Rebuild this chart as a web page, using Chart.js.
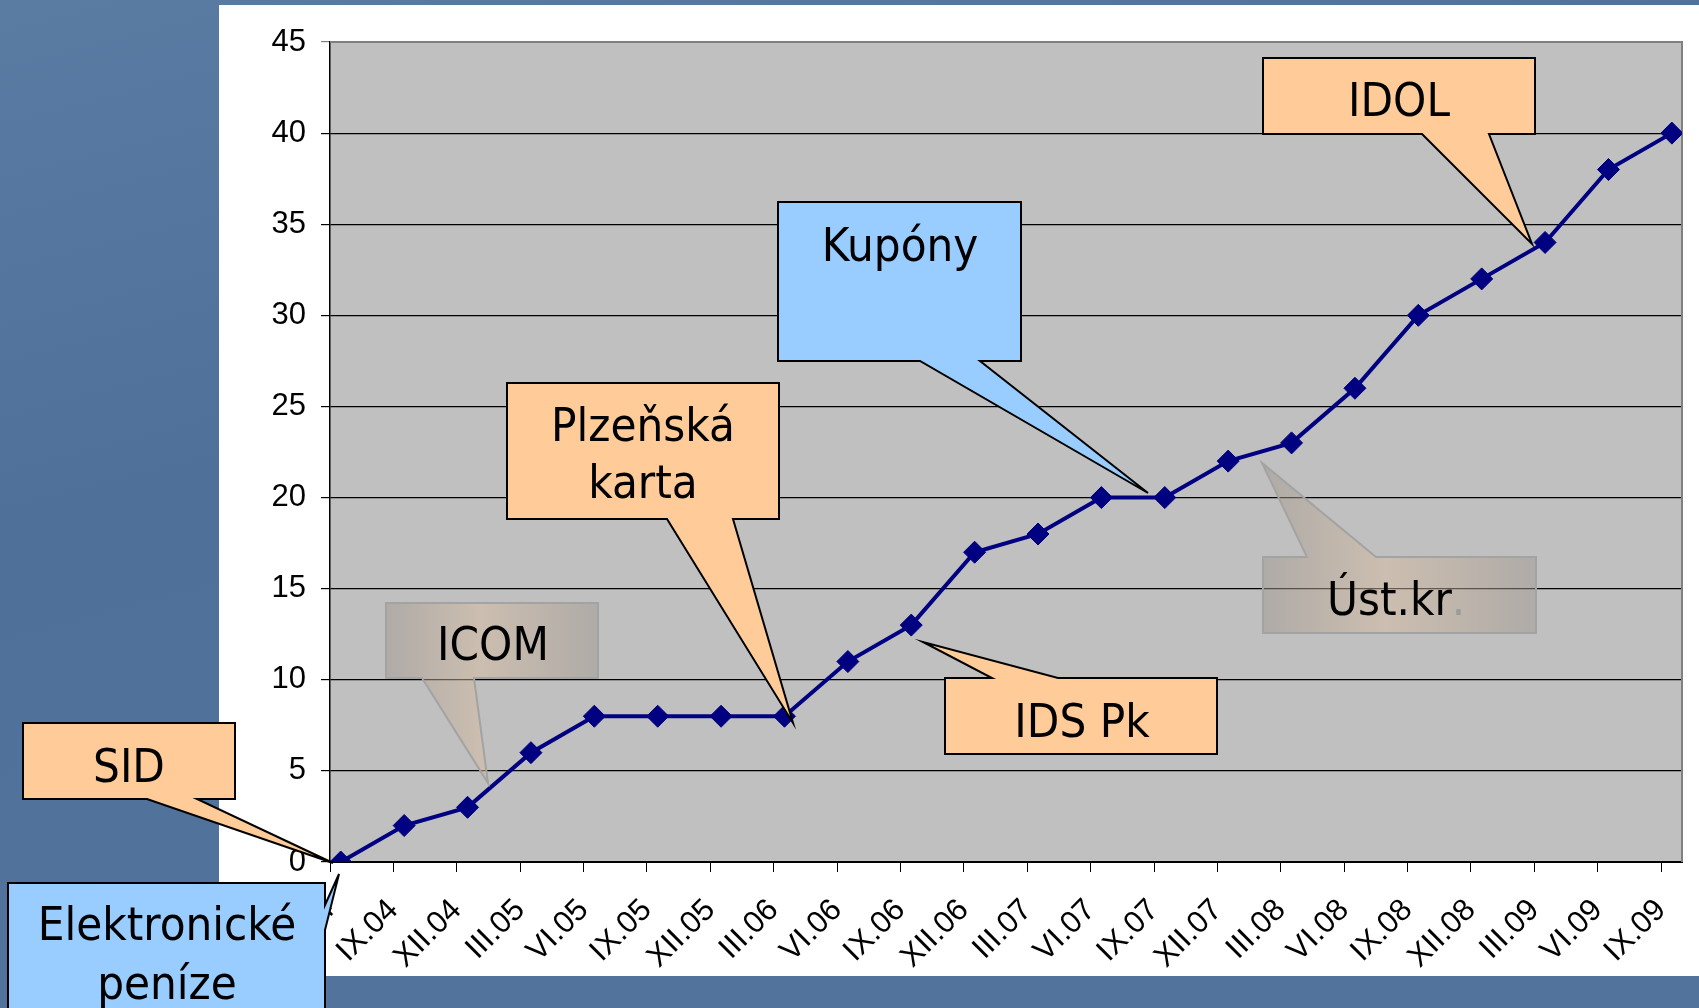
<!DOCTYPE html>
<html>
<head>
<meta charset="utf-8">
<script src="https://cdn.jsdelivr.net/npm/chart.js@4/dist/chart.umd.min.js"></script>
<style>
  html, body { margin: 0; padding: 0; background: #4f7099; overflow: hidden; }
  canvas { display: block; }
</style>
</head>
<body>
<canvas id="cardChart" width="1699" height="1008"></canvas>
<script>
// quarters on the x axis (the first one sits under the "Elektronické peníze" box)
const periods = ["VI.04", "IX.04", "XII.04", "III.05", "VI.05", "IX.05", "XII.05", "III.06",
  "VI.06", "IX.06", "XII.06", "III.07", "VI.07", "IX.07", "XII.07", "III.08",
  "VI.08", "IX.08", "XII.08", "III.09", "VI.09", "IX.09"];
const cardCounts = [0, 2, 3, 6, 8, 8, 8, 8, 11, 13, 17, 18, 20, 20, 22, 23, 26, 30, 32, 34, 38, 40];
const yTicks = [0, 5, 10, 15, 20, 25, 30, 35, 40, 45];

const PEACH = "#ffcc99";
const BLUE = "#99ccff";
const CALLOUT_FONT = "47px 'DejaVu Sans Condensed', 'DejaVu Sans', sans-serif";

// callout boxes: rect, tail (edge, two base points along the edge, tip) and text lines
const callouts = [
  { lines: ["SID"], fill: PEACH, rect: [23, 723, 235, 799], tail: { edge: "bottom", a: 147, b: 197, tip: [333, 863] }, cx: 129, base: [782] },
  { lines: ["Elektronické", "peníze"], fill: BLUE, rect: [8, 883, 325, 1030], tail: { edge: "right", a: 905, b: 930, tip: [339, 874] }, cx: 167, base: [940, 999] },
  { lines: ["ICOM"], fill: "grey", rect: [386, 603, 598, 678], tail: { edge: "bottom", a: 422, b: 474, tip: [488, 783] }, cx: 493, base: [660] },
  { lines: ["Plzeňská", "karta"], fill: PEACH, rect: [507, 383, 779, 519], tail: { edge: "bottom", a: 667, b: 733, tip: [793, 723] }, cx: 643, base: [441, 498] },
  { lines: ["Kupóny"], fill: BLUE, rect: [778, 202, 1021, 361], tail: { edge: "bottom", a: 920, b: 980, tip: [1148, 493] }, cx: 900, base: [261] },
  { lines: ["IDS Pk"], fill: PEACH, rect: [945, 678, 1217, 754], tail: { edge: "top", a: 992, b: 1058, tip: [923, 642] }, cx: 1082, base: [737] },
  { lines: ["IDOL"], fill: PEACH, rect: [1263, 58, 1535, 134], tail: { edge: "bottom", a: 1422, b: 1489, tip: [1532, 244] }, cx: 1399, base: [116] },
  { lines: ["Úst.kr"], fill: "grey", rect: [1263, 557, 1536, 633], tail: { edge: "top", a: 1307, b: 1376, tip: [1262, 463] }, cx: 1394, base: [615], greyDot: true }
];

function calloutPath(ctx, c) {
  const [l, t, r, b] = c.rect;
  const tl = c.tail;
  const pts = [[l, t]];
  if (tl.edge === "top") pts.push([tl.a, t], tl.tip, [tl.b, t]);
  pts.push([r, t]);
  if (tl.edge === "right") pts.push([r, tl.a], tl.tip, [r, tl.b]);
  pts.push([r, b]);
  if (tl.edge === "bottom") pts.push([tl.b, b], tl.tip, [tl.a, b]);
  pts.push([l, b]);
  ctx.beginPath();
  pts.forEach((p, i) => i ? ctx.lineTo(p[0], p[1]) : ctx.moveTo(p[0], p[1]));
  ctx.closePath();
}

const pagePlugin = {
  id: "page",
  beforeDraw(chart) {
    const ctx = chart.ctx;
    const W = chart.width, H = chart.height;
    ctx.save();
    const g = ctx.createLinearGradient(0, 0, 260, H);
    g.addColorStop(0, "#5a7ba2");
    g.addColorStop(0.5, "#4f7099");
    g.addColorStop(1, "#52739b");
    ctx.fillStyle = g;
    ctx.fillRect(0, 0, W, H);
    ctx.fillStyle = "#ffffff";
    ctx.fillRect(219, 5, W - 219, 971);
    const a = chart.chartArea;
    ctx.fillStyle = "#c0c0c0";
    ctx.fillRect(a.left, a.top, a.right - a.left, a.bottom - a.top);
    ctx.restore();
  },
  beforeDatasetsDraw(chart) {
    const ctx = chart.ctx, a = chart.chartArea;
    ctx.save();
    ctx.strokeStyle = "#808080";
    ctx.lineWidth = 2;
    ctx.beginPath();
    ctx.moveTo(a.left, a.top);
    ctx.lineTo(a.right, a.top);
    ctx.lineTo(a.right, a.bottom);
    ctx.stroke();
    ctx.restore();
  }
};

const calloutPlugin = {
  id: "callouts",
  afterDraw(chart) {
    const ctx = chart.ctx;
    callouts.forEach(c => {
      ctx.save();
      calloutPath(ctx, c);
      if (c.fill === "grey") {
        const g = ctx.createLinearGradient(c.rect[0], 0, c.rect[2], 0);
        g.addColorStop(0, "rgba(158,150,142,0.5)");
        g.addColorStop(0.45, "rgba(216,188,160,0.5)");
        g.addColorStop(1, "rgba(158,150,142,0.5)");
        ctx.fillStyle = g;
        ctx.fill();
        ctx.strokeStyle = "#a3a3a3";
        ctx.lineWidth = 2;
      } else {
        ctx.fillStyle = c.fill;
        ctx.fill();
        ctx.strokeStyle = "#000000";
        ctx.lineWidth = 2;
      }
      ctx.stroke();
      ctx.font = CALLOUT_FONT;
      ctx.fillStyle = "#000";
      ctx.textBaseline = "alphabetic";
      c.lines.forEach((txt, i) => {
        if (c.greyDot) {
          const w = ctx.measureText(txt + ".").width;
          const x0 = c.cx - w / 2;
          ctx.textAlign = "left";
          ctx.fillText(txt, x0, c.base[i]);
          ctx.fillStyle = "#9a9a9a";
          ctx.fillText(".", x0 + ctx.measureText(txt).width, c.base[i]);
        } else {
          ctx.textAlign = "center";
          ctx.fillText(txt, c.cx, c.base[i]);
        }
      });
      ctx.restore();
    });
  }
};

const axisFamily = "'Liberation Sans', Arial, sans-serif";

new Chart(document.getElementById("cardChart").getContext("2d"), {
  type: "line",
  data: {
    datasets: [{
      data: cardCounts.map((v, i) => ({ x: i, y: v })),
      borderColor: "#000080",
      borderWidth: 4,
      pointStyle: "rectRot",
      pointRadius: 11,
      pointBackgroundColor: "#000080",
      pointBorderColor: "#000080",
      pointBorderWidth: 1,
      tension: 0
    }]
  },
  options: {
    responsive: false,
    animation: false,
    events: [],
    layout: { padding: { left: 0, top: 42, right: 17, bottom: 0 } },
    plugins: { legend: { display: false }, tooltip: { enabled: false } },
    scales: {
      x: {
        type: "linear",
        min: -0.17,
        max: 21.16,
        afterBuildTicks: s => { s.ticks = periods.map((p, i) => ({ value: i - 0.17 })); },
        afterFit: s => { s.height = 146; s.paddingLeft = 0; s.paddingRight = 0; },
        ticks: {
          autoSkip: false,
          minRotation: 45,
          maxRotation: 45,
          padding: 20,
          color: "#000",
          font: { family: axisFamily, size: 31 },
          callback: (v, i) => periods[i]
        },
        grid: { drawOnChartArea: false, color: "#000", tickLength: 10 },
        border: { color: "#000", width: 2 }
      },
      y: {
        min: 0,
        max: 45,
        afterBuildTicks: s => { s.ticks = yTicks.map(v => ({ value: v })); },
        afterFit: s => { s.width = 330; },
        ticks: { padding: 15, color: "#000", font: { family: axisFamily, size: 31 } },
        grid: { color: c => c.tick && c.tick.value === 45 ? "#808080" : "#000", lineWidth: 1.2, tickLength: 9 },
        border: { color: "#000", width: 1.5 }
      }
    }
  },
  plugins: [pagePlugin, calloutPlugin]
});
</script>
</body>
</html>
